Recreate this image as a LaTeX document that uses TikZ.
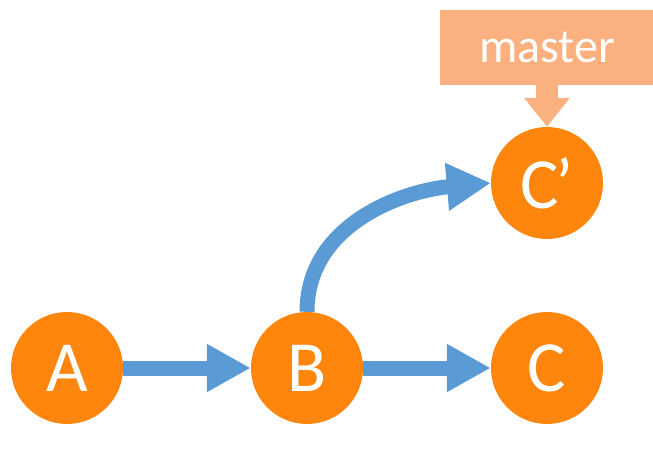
\documentclass[tikz,border=0pt]{standalone}
\usepackage{fontspec}
\setmainfont{Carlito}
\usetikzlibrary{arrows.meta, positioning}
\definecolor{commitorange}{HTML}{FF860D}
\definecolor{arrowblue}{HTML}{5B9BD5}
\definecolor{branchorange}{HTML}{FBB07F}

\begin{document}
\begin{tikzpicture}[>={Triangle[length=44pt,width=45pt]}, node distance=240pt, on grid]

        \tikzstyle{commit}=[circle, fill=commitorange, text=white, minimum size=112pt, inner sep=0pt, font=\fontsize{72}{72}\selectfont]
        \tikzstyle{branch}=[rectangle, fill=branchorange, text=white, minimum width=214pt, minimum height=75pt, inner sep=0pt, font=\fontsize{48}{48}\selectfont]

        \useasboundingbox (0,0) rectangle (653pt,-459pt);

        \node[commit]   (A) at (67pt,-368pt) {A};
        \node[commit]   (B) [right of =A] {B};
        \node[commit]   (C) [right of =B] {C};
        \node[commit]   (Cp) [node distance=185pt, above of =C] {C\kern-3pt’};
        \node[branch]   (master) [node distance=136pt, above of =Cp] {master};

        \path[->, arrowblue, line width=15pt]
        (A) edge  (B)
        (B) edge  (C)
        (B.north) edge  [out=90, in=185] (Cp.west);

        \draw[-{Triangle[length=29pt,width=44pt]}, branchorange, line width=22pt] (master) -- (Cp);

\end{tikzpicture}
\end{document}
